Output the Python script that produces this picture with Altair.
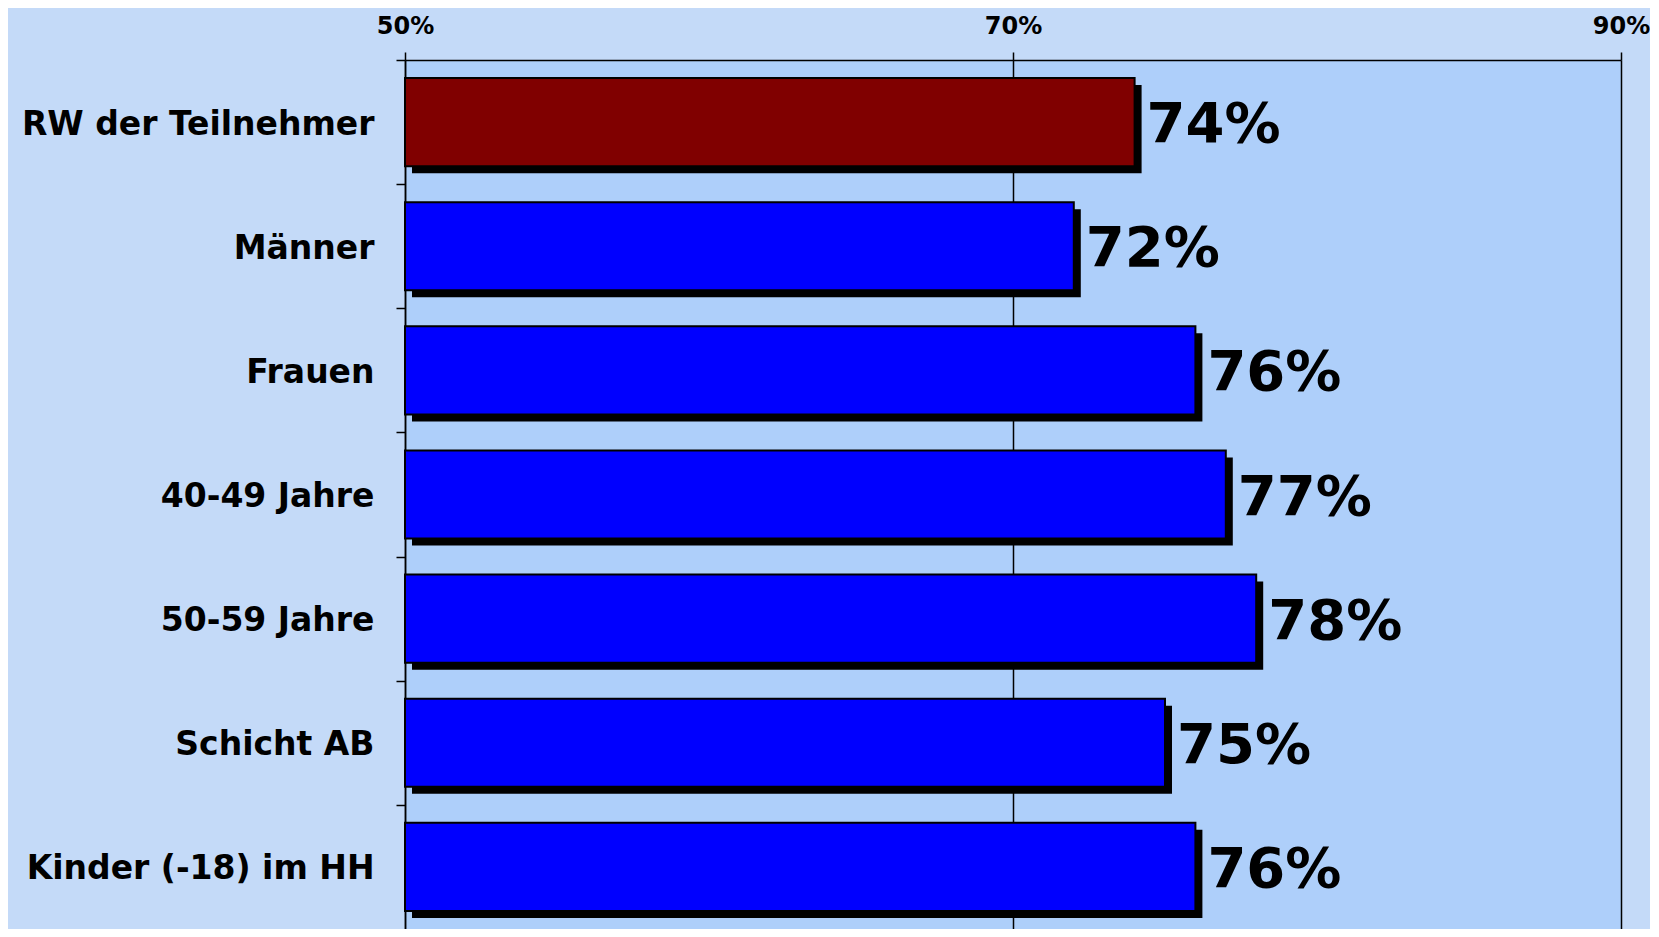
import altair as alt
import pandas as pd

categories = ["RW der Teilnehmer", "Männer", "Frauen", "40-49 Jahre",
              "50-59 Jahre", "Schicht AB", "Kinder (-18) im HH"]
values = [0.74, 0.72, 0.76, 0.77, 0.78, 0.75, 0.76]
labels = ["74%", "72%", "76%", "77%", "78%", "75%", "76%"]
bar_colors = ["#800000", "#0000FF", "#0000FF", "#0000FF", "#0000FF", "#0000FF", "#0000FF"]
x_ticks = [0.5, 0.7, 0.9]

df = pd.DataFrame({
    "cat": categories,
    "val": values,
    "label": labels,
    "color": bar_colors,
    "base": [x_ticks[0]] * len(categories),
})

W = 1216
H = 869
STEP = H / len(categories)
FONT = "DejaVu Sans"

xscale = alt.Scale(domain=[x_ticks[0], x_ticks[-1]], zero=False, nice=False)
yscale = alt.Scale(domain=categories, paddingInner=0.29, paddingOuter=0.145)

x_axis = alt.Axis(orient="top", values=x_ticks, format=".0%", title=None,
                  labelFont=FONT, labelFontWeight="bold", labelFontSize=24,
                  labelColor="black", labelPadding=14, labelFlush=False,
                  tickColor="black", tickSize=8, tickWidth=1.5,
                  domainColor="black", domainWidth=1.5,
                  grid=True, gridColor="black", gridWidth=1.5, gridOpacity=1)
y_axis = alt.Axis(title=None, labelFont=FONT, labelFontWeight="bold",
                  labelFontSize=33, labelColor="black", labelPadding=22,
                  labelLimit=600, tickSize=9, tickWidth=1.5,
                  tickOffset=-STEP / 2, labelOffset=STEP / 2 + 2,
                  tickColor="black", domainColor="black", domainWidth=1.5,
                  grid=False)

base = alt.Chart(df)

shadow = base.mark_bar(color="black", xOffset=7, x2Offset=7, yOffset=7, y2Offset=7).encode(
    x=alt.X("base:Q", scale=xscale, axis=x_axis),
    x2="val:Q",
    y=alt.Y("cat:N", scale=yscale, sort=categories, axis=y_axis),
)

bars = base.mark_bar(stroke="black", strokeWidth=2).encode(
    x=alt.X("base:Q", scale=xscale, axis=x_axis),
    x2="val:Q",
    y=alt.Y("cat:N", scale=yscale, sort=categories, axis=y_axis),
    color=alt.Color("color:N", scale=None),
)

text = base.mark_text(align="left", baseline="middle", dx=12, dy=3,
                      font=FONT, fontWeight="bold", fontSize=56, color="black").encode(
    x=alt.X("val:Q", scale=xscale, axis=x_axis),
    y=alt.Y("cat:N", scale=yscale, sort=categories, axis=y_axis),
    text="label:N",
)

chart = alt.layer(shadow, bars, text).properties(
    width=W, height=H,
    autosize=alt.AutoSizeParams(type="none"),
    padding={"left": 397, "top": 52, "right": 29, "bottom": 0},
    background="#C4DAF8",
).configure_view(
    stroke=None,
    fill="#AECFFA",
)

chart.save("out.html", embed_options={"renderer": "svg", "actions": False})
